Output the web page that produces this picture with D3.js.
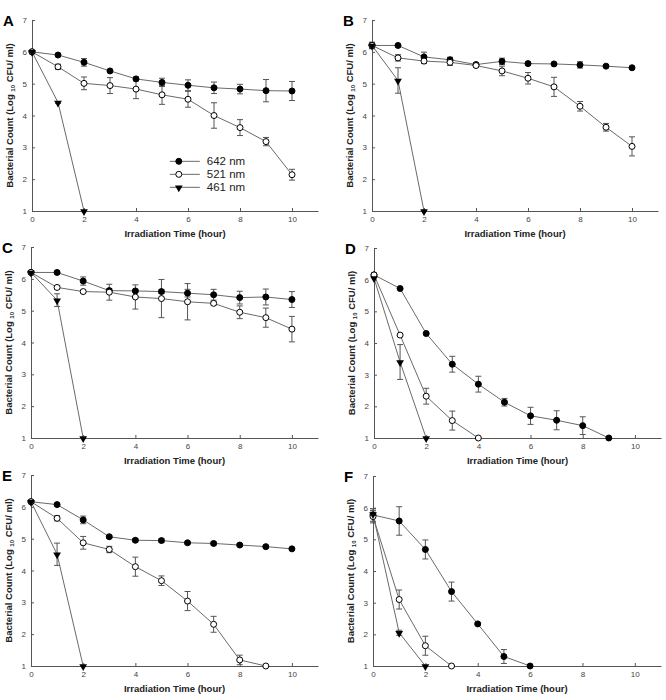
<!DOCTYPE html>
<html>
<head>
<meta charset="utf-8">
<script src="https://cdn.jsdelivr.net/npm/d3@7"></script>
<style>
  body { margin: 0; background: #fff; }
  text { font-family: "Liberation Sans", Arial, sans-serif; }
</style>
</head>
<body>
<svg id="chart" width="666" height="700"></svg>
<script>
const seriesNames = ["642 nm", "521 nm", "461 nm"];
const panelLabels = ["A", "B", "C", "D", "E", "F"];
const xTicks = [0, 2, 4, 6, 8, 10];
const yTicks = [1, 2, 3, 4, 5, 6, 7];

// log10 CFU/ml, one value per hour starting at hour 0
const a642 = [6.0, 5.9, 5.67, 5.4, 5.15, 5.04, 4.95, 4.87, 4.83, 4.78, 4.77];
const a642Err = [0, 0.04, 0.12, 0.04, 0.06, 0.13, 0.17, 0.18, 0.15, 0.35, 0.3];
const a521 = [6.0, 5.53, 5.01, 4.94, 4.83, 4.65, 4.51, 4.0, 3.62, 3.18, 2.14];
const a521Err = [0, 0.08, 0.2, 0.25, 0.3, 0.3, 0.25, 0.4, 0.25, 0.13, 0.17];
const a461 = [6.0, 4.41, 1.0];
const a461Err = [0, 0.03, 0];

const b642 = [6.2, 6.2, 5.84, 5.75, 5.6, 5.7, 5.63, 5.62, 5.59, 5.55, 5.5];
const b642Err = [0.1, 0.03, 0.15, 0.08, 0.05, 0.1, 0.05, 0.03, 0.1, 0.04, 0.04];
const b521 = [6.2, 5.81, 5.71, 5.67, 5.57, 5.4, 5.17, 4.9, 4.29, 3.63, 3.03];
const b521Err = [0.1, 0.1, 0.08, 0.1, 0.05, 0.15, 0.18, 0.3, 0.15, 0.12, 0.3];
const b461 = [6.2, 5.1, 1.0];
const b461Err = [0, 0.4, 0];

const c642 = [6.2, 6.2, 5.93, 5.63, 5.62, 5.6, 5.55, 5.5, 5.41, 5.43, 5.35];
const c642Err = [0.05, 0.05, 0.13, 0.06, 0.05, 0.06, 0.12, 0.17, 0.2, 0.25, 0.25];
const c521 = [6.2, 5.73, 5.6, 5.58, 5.43, 5.38, 5.28, 5.23, 4.95, 4.78, 4.42];
const c521Err = [0.05, 0.05, 0.04, 0.25, 0.38, 0.6, 0.57, 0.05, 0.2, 0.3, 0.4];
const c461 = [6.2, 5.33, 1.0];
const c461Err = [0, 0.2, 0];

const d642 = [6.15, 5.72, 4.3, 3.33, 2.7, 2.13, 1.7, 1.56, 1.39, 1.0];
const d642Err = [0.03, 0.03, 0.04, 0.25, 0.25, 0.12, 0.27, 0.3, 0.28, 0];
const d521 = [6.15, 4.25, 2.32, 1.55, 1.0];
const d521Err = [0.03, 0.03, 0.25, 0.3, 0];
const d461 = [6.05, 3.4, 1.0];
const d461Err = [0, 0.55, 0];

const e642 = [6.16, 6.07, 5.59, 5.06, 4.95, 4.94, 4.87, 4.85, 4.8, 4.75, 4.68];
const e642Err = [0.05, 0.04, 0.12, 0.04, 0.05, 0.06, 0.04, 0.05, 0.04, 0.04, 0.04];
const e521 = [6.16, 5.64, 4.87, 4.66, 4.12, 3.68, 3.04, 2.31, 1.19, 1.0];
const e521Err = [0.05, 0.08, 0.2, 0.1, 0.3, 0.15, 0.3, 0.25, 0.15, 0];
const e461 = [6.16, 4.51, 1.0];
const e461Err = [0, 0.35, 0];

const f642 = [5.77, 5.58, 4.68, 3.35, 2.33, 1.3, 1.0];
const f642Err = [0.2, 0.45, 0.3, 0.3, 0.03, 0.22, 0];
const f521 = [5.72, 3.1, 1.64, 1.0];
const f521Err = [0.2, 0.3, 0.3, 0];
const f461 = [5.8, 2.05, 1.0];
const f461Err = [0.1, 0.08, 0];

const panelData = [
  [[a642, a642Err], [a521, a521Err], [a461, a461Err]],
  [[b642, b642Err], [b521, b521Err], [b461, b461Err]],
  [[c642, c642Err], [c521, c521Err], [c461, c461Err]],
  [[d642, d642Err], [d521, d521Err], [d461, d461Err]],
  [[e642, e642Err], [e521, e521Err], [e461, e461Err]],
  [[f642, f642Err], [f521, f521Err], [f461, f461Err]]
];

// plot boxes: left (x=0), right (x=11), top (y=7), bottom (y=1)
const boxes = [
  {l: 32, r: 318, t: 20, b: 211},
  {l: 372, r: 658, t: 20, b: 211},
  {l: 31, r: 318, t: 247, b: 438},
  {l: 374, r: 661, t: 248, b: 438},
  {l: 31, r: 318, t: 475, b: 666},
  {l: 373, r: 661, t: 476, b: 666}
];

const svg = d3.select("#chart");
const axisCol = "#555", lineCol = "#6a6a6a";

function marker(g, kind, cx, cy) {
  if (kind === 2) {
    g.append("path")
      .attr("d", d3.symbol().type(d3.symbolTriangle).size(26)())
      .attr("transform", `translate(${cx},${cy + 0.5}) rotate(180)`)
      .attr("fill", "#000");
  } else {
    g.append("circle")
      .attr("cx", cx).attr("cy", cy).attr("r", 3)
      .attr("fill", kind === 1 ? "#fff" : "#000")
      .attr("stroke", "#000").attr("stroke-width", 1);
  }
}

panelData.forEach((series, pi) => {
  const box = boxes[pi];
  const x = d3.scaleLinear().domain([0, 11]).range([box.l, box.r]);
  const y = d3.scaleLinear().domain([1, 7]).range([box.b, box.t]);
  const g = svg.append("g");

  // axes
  const yAxis = g.append("g")
    .attr("transform", `translate(${box.l},0)`)
    .call(d3.axisLeft(y).tickValues(yTicks).tickFormat(d3.format("d"))
      .tickSizeInner(-3).tickSizeOuter(0).tickPadding(5));
  const xAxis = g.append("g")
    .attr("transform", `translate(0,${box.b})`)
    .call(d3.axisBottom(x).tickValues(xTicks).tickFormat(d3.format("d"))
      .tickSizeInner(-3).tickSizeOuter(0).tickPadding(5));
  [yAxis, xAxis].forEach(a => {
    a.selectAll("path, line").attr("stroke", axisCol);
    a.selectAll("text").attr("fill", "#444").style("font-size", "8px");
  });

  // axis titles
  g.append("text")
    .attr("x", (box.l + box.r) / 2).attr("y", box.b + 26)
    .attr("text-anchor", "middle")
    .style("font-size", "9.5px").style("font-weight", "bold").attr("fill", "#222")
    .text("Irradiation Time (hour)");
  const yt = g.append("text")
    .attr("transform", `translate(${box.l - 19},${(box.t + box.b) / 2}) rotate(-90)`)
    .attr("text-anchor", "middle")
    .style("font-size", "9.5px").style("font-weight", "bold").attr("fill", "#222");
  yt.append("tspan").text("Bacterial Count (Log ");
  yt.append("tspan").attr("dy", 2).style("font-size", "6px").text("10");
  yt.append("tspan").attr("dy", -2).text(" CFU/ ml)");

  // panel letter
  g.append("text")
    .attr("x", box.l - 29).attr("y", box.t + 6)
    .style("font-size", "15px").style("font-weight", "bold").attr("fill", "#000")
    .text(panelLabels[pi]);

  const line = d3.line().x((d, i) => x(i)).y(d => y(d));

  series.forEach(([vals]) => {
    g.append("path").attr("d", line(vals))
      .attr("fill", "none").attr("stroke", lineCol).attr("stroke-width", 1);
  });
  series.forEach(([vals, errs]) => {
    vals.forEach((v, i) => {
      const e = errs[i];
      if (!e) return;
      const y0 = y(Math.max(1, v - e)), y1 = y(v + e), cx = x(i);
      g.append("line").attr("x1", cx).attr("x2", cx).attr("y1", y0).attr("y2", y1)
        .attr("stroke", "#555").attr("stroke-width", 1);
      [y0, y1].forEach(yy => g.append("line")
        .attr("x1", cx - 3).attr("x2", cx + 3).attr("y1", yy).attr("y2", yy)
        .attr("stroke", "#555").attr("stroke-width", 1));
    });
  });
  series.forEach(([vals], si) => {
    vals.forEach((v, i) => marker(g, si, x(i), y(v)));
  });
});

// legend in panel A
const lg = svg.append("g");
const lgX = d3.scaleLinear().domain([0, 11]).range([boxes[0].l, boxes[0].r]);
const lgY = d3.scaleLinear().domain([1, 7]).range([boxes[0].b, boxes[0].t]);
seriesNames.forEach((name, i) => {
  const yy = lgY(2.56) + i * 13;
  const x0 = lgX(5.3);
  lg.append("line").attr("x1", x0).attr("x2", x0 + 30).attr("y1", yy).attr("y2", yy)
    .attr("stroke", lineCol).attr("stroke-width", 1);
  marker(lg, i, x0 + 9, yy);
  lg.append("text").attr("x", x0 + 37).attr("y", yy + 4)
    .style("font-size", "11.5px").attr("fill", "#222").text(name);
});
</script>
</body>
</html>
